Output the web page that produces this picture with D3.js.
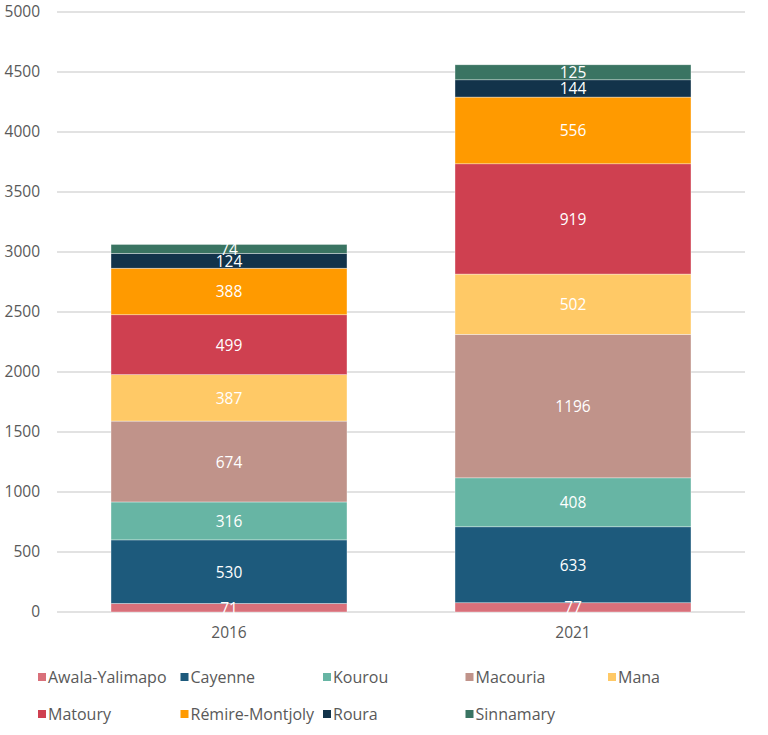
<!DOCTYPE html>
<html><head><meta charset="utf-8">
<script src="https://cdn.jsdelivr.net/npm/d3@7"></script>
<style>body{margin:0;background:#fff}svg{display:block}text{font-family:"Open Sans",sans-serif}</style>
</head><body><svg id="c" width="768" height="735"></svg>
<script>
const years = ["2016", "2021"];
const communes = ["Awala-Yalimapo","Cayenne","Kourou","Macouria","Mana","Matoury","Rémire-Montjoly","Roura","Sinnamary"];
const values2016 = [71, 530, 316, 674, 387, 499, 388, 124, 74];
const values2021 = [77, 633, 408, 1196, 502, 919, 556, 144, 125];
const colors = ["#d9707a","#1d5a7c","#67b5a4","#c0938a","#ffc966","#cf4050","#ff9a00","#12334a","#3a7462"];
const yTicks = [0,500,1000,1500,2000,2500,3000,3500,4000,4500,5000];

(function(){
const svg = d3.select("#c");
const left = 57, right = 745, plotTop = 12, plotBottom = 612;
const x = d3.scaleBand().domain(years).range([left, right]).paddingInner(0.314).paddingOuter(0.157);
const y = d3.scaleLinear().domain([0, 5000]).range([plotBottom, plotTop]);

svg.append("g").selectAll("line").data(yTicks).join("line")
  .attr("x1", left).attr("x2", right)
  .attr("y1", d => y(d)).attr("y2", d => y(d))
  .attr("stroke", "#d9d9d9").attr("stroke-width", 1.3);

const yAxis = d3.axisLeft(y).tickValues(yTicks).tickFormat(d3.format("d")).tickSize(0).tickPadding(0);
const ga = svg.append("g").attr("transform", "translate(40,0)").call(yAxis);
ga.select(".domain").remove();
ga.selectAll("text").attr("font-size", 15.5).attr("fill", "#595959").attr("font-family", '"Open Sans",sans-serif');

const xAxis = d3.axisBottom(x).tickSize(0).tickPadding(0);
const gx = svg.append("g").attr("transform", "translate(0,627)").call(xAxis);
gx.select(".domain").remove();
gx.selectAll("text").attr("font-size", 15.5).attr("fill", "#595959").attr("font-family", '"Open Sans",sans-serif');

const table = years.map((yr, i) => {
  const vals = i === 0 ? values2016 : values2021;
  const o = {year: yr};
  communes.forEach((c, j) => o[c] = vals[j]);
  return o;
});
const stack = d3.stack().keys(communes)(table);
const color = d3.scaleOrdinal().domain(communes).range(colors);

const layers = svg.append("g").selectAll("g").data(stack).join("g").attr("fill", d => color(d.key));
layers.selectAll("rect").data(d => d.map(p => ({p, key: d.key}))).join("rect")
  .attr("x", d => x(d.p.data.year)).attr("width", x.bandwidth())
  .attr("y", d => y(d.p[1])).attr("height", d => y(d.p[0]) - y(d.p[1]))
  .attr("stroke", "#fff").attr("stroke-width", 0.6).attr("stroke-opacity", 0.6);

const lbl = svg.append("g");
stack.forEach(s => s.forEach(p => {
  lbl.append("text")
    .attr("x", x(p.data.year) + x.bandwidth() / 2)
    .attr("y", (y(p[0]) + y(p[1])) / 2)
    .attr("text-anchor", "middle").attr("dominant-baseline", "central")
    .attr("font-size", 15.5).attr("fill", "#fff")
    .text(p[1] - p[0]);
}));

const leg = svg.append("g");
communes.forEach((c, i) => {
  const col = i % 5, row = Math.floor(i / 5);
  const lx = 38 + col * 142.5, ly = 677 + row * 37;
  leg.append("rect").attr("x", lx).attr("y", ly - 4).attr("width", 8).attr("height", 8).attr("fill", colors[i]);
  leg.append("text").attr("x", lx + 10).attr("y", ly).attr("dominant-baseline", "central")
    .attr("font-size", 16).attr("fill", "#595959").text(c);
});
})();
</script></body></html>
